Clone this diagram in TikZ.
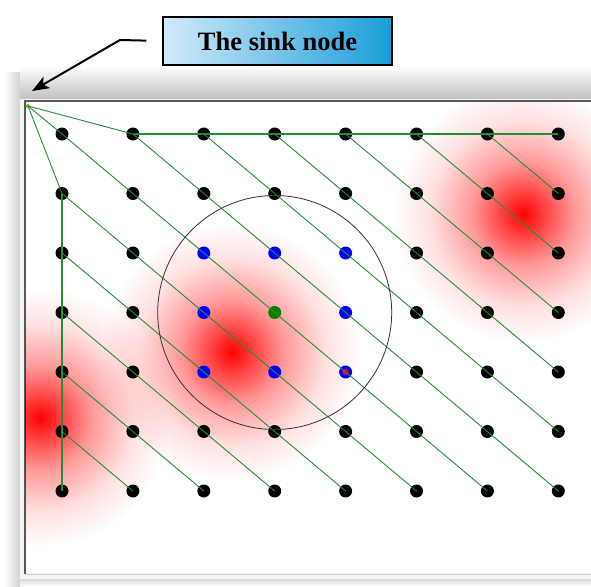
\documentclass[tikz,border=0pt]{standalone}
\usepackage{fontspec}
\setmainfont{Liberation Serif}
\usetikzlibrary{arrows.meta}
\definecolor{sky_light}{RGB}{210,235,250}
\definecolor{sky_deep}{RGB}{25,158,215}
\definecolor{link_green}{RGB}{35,140,55}
\pgfdeclareradialshading{hotspot}{\pgfpoint{0bp}{0bp}}{color(0bp)=(red);
  color(4bp)=(red!75!white); color(10bp)=(red!40!white);
  color(18bp)=(red!12!white); color(25bp)=(white); color(50bp)=(white)}

\begin{document}
\begin{tikzpicture}[x=1pt, y=-1pt,
    dot/.style={circle, fill=black, inner sep=0pt, minimum size=13pt},
    link/.style={draw=link_green, line width=0.9pt},
    trunk/.style={draw=link_green, line width=1.5pt}]
  \useasboundingbox (0,0) rectangle (591,586);
  % window frame and its shadow
  \shade[left color=white, right color=gray!45] (4,72) rectangle (24,586);
  \shade[top color=white, bottom color=gray!50] (20,66) rectangle (591,100);
  \shade[top color=gray!35, bottom color=white] (20,578) rectangle (591,586);
  \fill[gray!8] (20,99) rectangle (591,579);
  \fill[white] (25,101) rectangle (591,573);
  \draw[gray!70!black, line width=1.5pt] (25,574) -- (25,101) -- (591,101);
  \draw[gray!40, line width=1pt] (25,574) -- (591,574);
  % hot spots
  \coordinate (hot-a) at (232,352);
  \coordinate (hot-b) at (523,214);
  \coordinate (hot-c) at (40,418);
  \begin{scope}[blend mode=multiply]
    \clip (25,101) rectangle (591,573);
    \foreach \h in {hot-a, hot-b, hot-c}
      \shade[shading=hotspot] (\h) circle (130pt);
  \end{scope}
  % sensor grid
  \foreach \c in {0,...,7}{
    \foreach \r in {0,...,6}{
      \def\dotcol{black}
      \ifnum\c>1 \ifnum\c<5 \ifnum\r>1 \ifnum\r<5 \def\dotcol{blue}\fi\fi\fi\fi
      \ifnum\c=3 \ifnum\r=3 \def\dotcol{green!50!black}\fi\fi
      \node[dot, fill=\dotcol] (n-\c-\r) at ({62+70.9*\c},{134+59.5*\r}) {};
    }
  }
  \node[circle, fill=red, inner sep=0pt, minimum size=6pt] (hit) at (n-4-4) {};
  \node[circle, fill=orange!70!green, inner sep=0pt, minimum size=4pt] (sink) at (28,106) {};
  % routes
  \foreach \c in {0,...,6}
    \foreach \r in {0,...,5}{
      \pgfmathtruncatemacro\nxc{\c+1}
      \pgfmathtruncatemacro\nxr{\r+1}
      \draw[link] (n-\c-\r.center) -- (n-\nxc-\nxr.center);
    }
  \draw[link] (sink.center) -- (n-0-0.center);
  \draw[link] (sink.center) -- (n-1-0.center);
  \draw[link] (sink.center) -- (n-0-1.center);
  \draw[trunk] (n-1-0.center) -- (n-7-0.center);
  \draw[trunk] (n-0-1.center) -- (n-0-6.center);
  % sensing range
  \draw[black!80, line width=0.8pt] (n-3-3.center) circle (117pt);
  % label
  \node[draw=black, line width=1.3pt, left color=sky_light, right color=sky_deep,
        minimum width=229pt, minimum height=48pt,
        font=\bfseries\fontsize{26.5}{30}\selectfont]
        (label) at (277.5,41) {The sink node};
  \coordinate (bend) at (120,40);
  \coordinate (tip) at (32,91);
  \draw[line width=2pt, -{Stealth[length=17pt,width=13pt,inset=4pt]}, shorten <=16pt]
    (label.west) -- (bend) -- (tip);
\end{tikzpicture}
\end{document}
